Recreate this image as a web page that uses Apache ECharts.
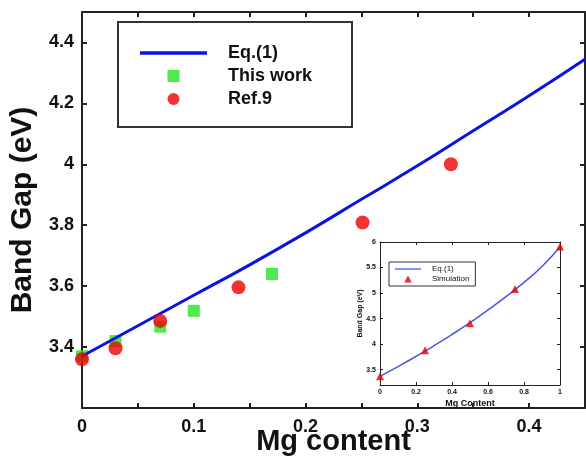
<!DOCTYPE html>
<html>
<head>
<meta charset="utf-8">
<script src="https://cdn.jsdelivr.net/npm/echarts@6/dist/echarts.min.js"></script>
<style>
  html, body { margin: 0; padding: 0; background: #fff; }
  #main { width: 586px; height: 460px; }
</style>
</head>
<body>
<div id="main"></div>
<script>
// main plot data
const eqX = [0, 0.05, 0.1, 0.15, 0.2, 0.25, 0.3, 0.35, 0.4, 0.45];
const eqY = [3.37, 3.47, 3.57, 3.67, 3.775, 3.885, 3.995, 4.11, 4.225, 4.345];
const workX = [0, 0.03, 0.07, 0.1, 0.17];
const workY = [3.37, 3.42, 3.467, 3.519, 3.64];
const refX = [0, 0.03, 0.07, 0.14, 0.251, 0.33];
const refY = [3.36, 3.396, 3.486, 3.596, 3.809, 4.0];
// inset data
const insetEqX = [0, 0.1, 0.2, 0.3, 0.4, 0.5, 0.6, 0.7, 0.8, 0.9, 1];
const insetEqY = [3.37, 3.56, 3.76, 3.97, 4.19, 4.42, 4.67, 4.93, 5.21, 5.52, 5.9];
const simX = [0, 0.25, 0.5, 0.75, 1];
const simY = [3.37, 3.88, 4.41, 5.08, 5.91];
const insetYTicks = [3.5, 4, 4.5, 5, 5.5, 6];

const font = "'Liberation Sans', Arial, sans-serif";
const axisColor = '#222';
const lineIcon = 'path://M0,0H20V1H0Z';
const squareIcon = 'path://M0,0H1V1H0Z';
const triangleIcon = 'path://M0.5,0L1,0.9H0Z';
const pairs = (xs, ys) => xs.map((x, i) => [x, ys[i]]);

const chart = echarts.init(document.getElementById('main'));

const boxAxis = (extra) => Object.assign({
  axisLine: { show: true, onZero: false, lineStyle: { color: axisColor, width: 2 } },
  axisTick: { show: true, inside: true, length: 5, lineStyle: { color: axisColor, width: 2 } },
  axisLabel: { show: false },
  splitLine: { show: false },
  nameMoveOverlap: false
}, extra);
const thin = {
  axisLine: { show: true, onZero: false, lineStyle: { color: axisColor, width: 1 } },
  axisTick: { show: true, inside: true, length: 3, lineStyle: { color: axisColor, width: 1 } }
};

chart.setOption({
  backgroundColor: '#fff',
  animation: false,
  grid: [
    { left: 82, top: 12, right: 1, bottom: 52, outerBoundsMode: 'none' },
    { left: 380, top: 242, width: 180, height: 143, outerBoundsMode: 'none',
      show: true, backgroundColor: '#fff', borderWidth: 0 }
  ],
  legend: [
    {
      data: [
        { name: 'Eq.(1)', icon: lineIcon },
        { name: 'This work', icon: squareIcon },
        { name: 'Ref.9', icon: 'circle' }
      ],
      orient: 'vertical',
      left: 118, top: 22,
      itemWidth: 67, itemHeight: 12, itemGap: 5,
      padding: [22, 40, 19, 22],
      borderColor: '#333', borderWidth: 2,
      backgroundColor: '#fff',
      textStyle: { fontFamily: font, fontWeight: 'bold', fontSize: 18, color: '#111', padding: [0, 0, 0, 16] }
    },
    {
      data: [
        { name: 'Eq.(1) ', icon: lineIcon },
        { name: 'Simulation', icon: triangleIcon }
      ],
      orient: 'vertical',
      left: 389, top: 262,
      itemWidth: 26, itemHeight: 7, itemGap: 2,
      padding: [3, 6, 3, 6],
      borderColor: '#333', borderWidth: 1,
      backgroundColor: '#fff',
      textStyle: { fontFamily: font, fontSize: 8, color: '#111', padding: [0, 0, 0, 6] }
    }
  ],
  xAxis: [
    boxAxis({
      type: 'value', gridIndex: 0, min: 0, max: 0.45, interval: 0.05,
      axisLabel: {
        show: true, fontFamily: font, fontWeight: 'bold', fontSize: 18, color: '#111', margin: 10,
        formatter: v => (Math.round(v * 100) % 10 === 0 ? String(Math.round(v * 10) / 10) : '')
      },
      name: 'Mg content', nameLocation: 'middle', nameGap: 34,
      nameTextStyle: { fontFamily: font, fontWeight: 'bold', fontSize: 29, color: '#111', verticalAlign: 'middle' }
    }),
    boxAxis({ type: 'value', gridIndex: 0, position: 'top', min: 0, max: 0.45, interval: 0.05 }),
    boxAxis(Object.assign({
      type: 'value', gridIndex: 1, min: 0, max: 1, interval: 0.2,
      axisLabel: { show: true, fontFamily: font, fontWeight: 'bold', fontSize: 7, color: '#111', margin: 4 },
      name: 'Mg Content', nameLocation: 'middle', nameGap: 14,
      nameTextStyle: { fontFamily: font, fontWeight: 'bold', fontSize: 9, color: '#111' }
    }, thin)),
    boxAxis(Object.assign({ type: 'value', gridIndex: 1, position: 'top', min: 0, max: 1, interval: 0.2 }, thin))
  ],
  yAxis: [
    boxAxis({
      type: 'value', gridIndex: 0, min: 3.2, max: 4.5, interval: 0.2,
      axisLabel: {
        show: true, fontFamily: font, fontWeight: 'bold', fontSize: 18, color: '#111', margin: 8,
        formatter: v => (v < 3.3 || v > 4.45 ? '' : String(Math.round(v * 10) / 10))
      },
      name: 'Band Gap (eV)', nameLocation: 'middle', nameGap: 44,
      nameTextStyle: { fontFamily: font, fontWeight: 'bold', fontSize: 30, color: '#111' }
    }),
    boxAxis({ type: 'value', gridIndex: 0, position: 'right', min: 3.2, max: 4.5, interval: 0.2 }),
    boxAxis({
      type: 'value', gridIndex: 1, min: 3.2, max: 6,
      axisLine: thin.axisLine,
      axisTick: Object.assign({}, thin.axisTick, { customValues: insetYTicks }),
      axisLabel: {
        show: true, fontFamily: font, fontWeight: 'bold', fontSize: 7, color: '#111', margin: 4,
        customValues: insetYTicks
      },
      name: 'Band Gap (eV)', nameLocation: 'middle', nameGap: 16,
      nameTextStyle: { fontFamily: font, fontWeight: 'bold', fontSize: 7, color: '#111' }
    }),
    boxAxis({
      type: 'value', gridIndex: 1, position: 'right', min: 3.2, max: 6,
      axisLine: thin.axisLine,
      axisTick: Object.assign({}, thin.axisTick, { customValues: insetYTicks })
    })
  ],
  series: [
    {
      name: 'This work', type: 'scatter', xAxisIndex: 0, yAxisIndex: 0,
      data: pairs(workX, workY), symbol: 'rect', symbolSize: 12,
      itemStyle: { color: '#22e522' }, z: 2
    },
    {
      name: 'Eq.(1)', type: 'line', xAxisIndex: 0, yAxisIndex: 0,
      data: pairs(eqX, eqY), symbol: 'none', smooth: true,
      lineStyle: { color: '#0a14e0', width: 3 }, itemStyle: { color: '#0a14e0' }, z: 3
    },
    {
      name: 'Ref.9', type: 'scatter', xAxisIndex: 0, yAxisIndex: 0,
      data: pairs(refX, refY), symbol: 'circle', symbolSize: 14,
      itemStyle: { color: '#f00000' }, z: 4
    },
    {
      name: 'Eq.(1) ', type: 'line', xAxisIndex: 2, yAxisIndex: 2,
      data: pairs(insetEqX, insetEqY), symbol: 'none', smooth: true,
      lineStyle: { color: '#4a55e8', width: 1.5 }, itemStyle: { color: '#4a55e8' }, z: 10
    },
    {
      name: 'Simulation', type: 'scatter', xAxisIndex: 2, yAxisIndex: 2,
      data: pairs(simX, simY), symbol: 'triangle', symbolSize: 8,
      itemStyle: { color: '#e00000' }, z: 11
    }
  ]
});
</script>
</body>
</html>
